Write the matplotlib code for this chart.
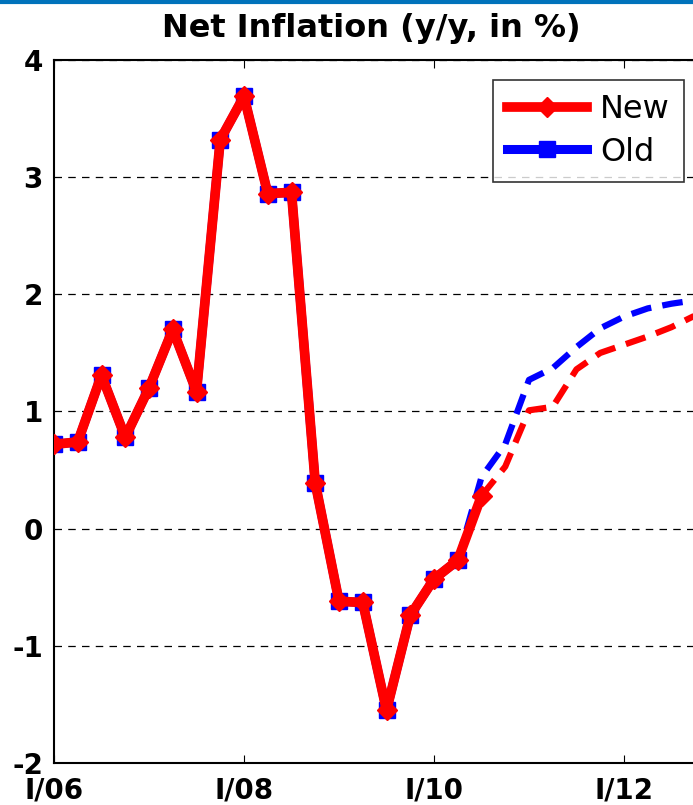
import matplotlib
matplotlib.use("Agg")
import matplotlib.pyplot as plt
from matplotlib.lines import Line2D

# ---- data (quarters since I/06) ----
hist_q = list(range(0, 19))
new_hist = [0.72, 0.74, 1.31, 0.78, 1.20, 1.70, 1.17, 3.32, 3.69, 2.86, 2.87,
            0.39, -0.62, -0.63, -1.55, -0.74, -0.43, -0.27, 0.28]
old_hist = [0.72, 0.74, 1.31, 0.78, 1.20, 1.70, 1.17, 3.32, 3.69, 2.86, 2.87,
            0.39, -0.62, -0.63, -1.55, -0.74, -0.43, -0.27]
new_fc_q = list(range(18, 28))
new_fc = [0.28, 0.53, 1.01, 1.04, 1.36, 1.50, 1.57, 1.64, 1.72, 1.82]
old_fc_q = list(range(17, 28))
old_fc = [-0.27, 0.44, 0.72, 1.27, 1.37, 1.55, 1.71, 1.81, 1.88, 1.92, 1.95]
tick_pos = [0, 8, 16, 24]
tick_labels = ["I/06", "I/08", "I/10", "I/12"]
y_ticks = [-2, -1, 0, 1, 2, 3, 4]

plt.rcParams['font.family'] = ['DejaVu Sans']

W, H = 693, 805
fig = plt.figure(figsize=(W / 100, H / 100), dpi=100)

# blue top band
fig.add_artist(Line2D([0, 1], [1 - 2 / H, 1 - 2 / H], color='#0072bb', lw=3,
                      transform=fig.transFigure))

left_px, top_px, bot_px = 54, 60, 763
ax = fig.add_axes([left_px / W, 1 - bot_px / H, (W - left_px) / W, (bot_px - top_px) / H])

red, blue = '#ff0000', '#0000ff'
ax.plot(old_fc_q, old_fc, color=blue, lw=4.5, ls=(0, (3.3, 1.8)), zorder=3)
ax.plot(range(len(old_hist)), old_hist, color=blue, lw=6.5, marker='s', ms=11.5,
        zorder=3, label='Old')
ax.plot(new_fc_q, new_fc, color=red, lw=4.5, ls=(0, (3.3, 1.8)), zorder=4)
ax.plot(hist_q, new_hist, color=red, lw=7, marker='D', ms=10, zorder=5, label='New')

ax.set_xlim(0, (W - left_px) / 23.75)
ax.set_ylim(-2, 4)
ax.set_yticks(y_ticks)
ax.set_yticklabels([str(v) for v in y_ticks])
ax.set_xticks(tick_pos)
ax.set_xticklabels(tick_labels)
ax.tick_params(axis='both', direction='in', length=6, width=0.8, top=True, right=False,
               labelsize=20)
ax.tick_params(axis='x', pad=10)
ax.tick_params(axis='y', length=0, pad=8)
for lab in ax.get_xticklabels() + ax.get_yticklabels():
    lab.set_fontweight('bold')
ax.spines['right'].set_visible(False)
for s in ['left', 'bottom', 'top']:
    ax.spines[s].set_linewidth(1.5)
ax.yaxis.grid(True, color='black', ls=(0, (6, 5)), lw=0.9)
ax.set_axisbelow(True)

handles, labels = ax.get_legend_handles_labels()
order = [labels.index('New'), labels.index('Old')]
leg = ax.legend([handles[i] for i in order], [labels[i] for i in order],
                loc='upper right',
                bbox_to_anchor=((684 - left_px) / (W - left_px), (bot_px - 80) / (bot_px - top_px)),
                fontsize=23, numpoints=1, handlelength=2.5, handletextpad=0.4,
                frameon=True, fancybox=False, edgecolor='black', borderpad=0.45,
                labelspacing=0.35, borderaxespad=0)
leg.get_frame().set_linewidth(1.2)

fig.text(371 / W, 1 - 37 / H, "Net Inflation (y/y, in %)", ha='center', va='baseline',
         fontsize=23, fontweight='bold')

fig.savefig("out.png", dpi=100)
